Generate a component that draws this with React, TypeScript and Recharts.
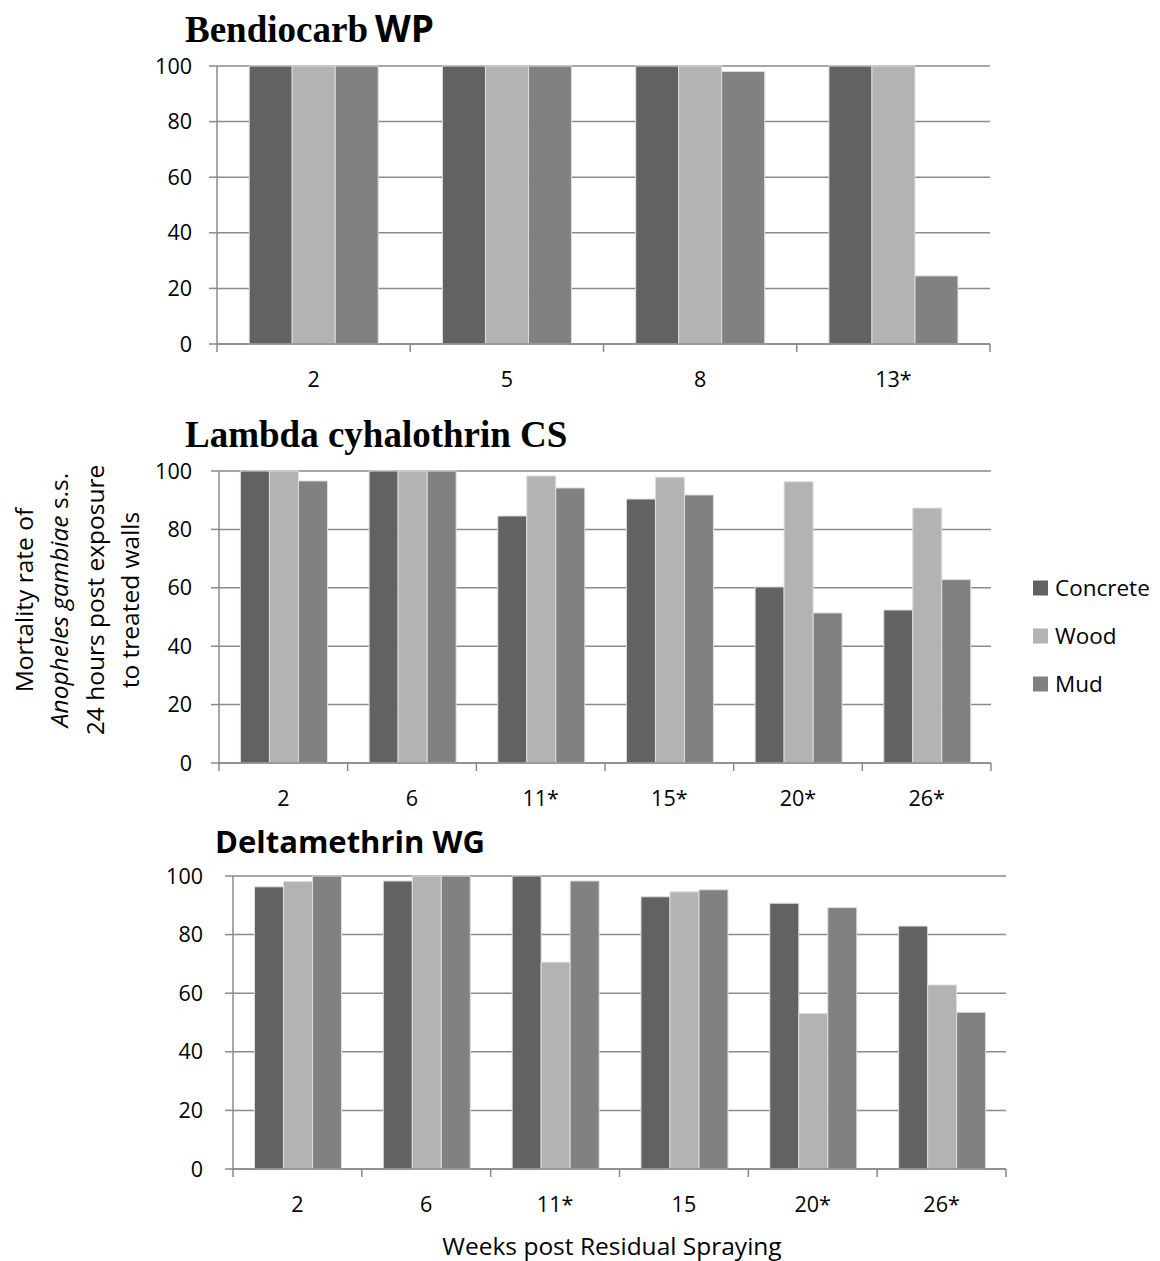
import React from "react";
import { BarChart, Bar, XAxis, YAxis, CartesianGrid } from "recharts";

// values (% mortality)
const bendioWeeks = ["2", "5", "8", "13*"];
const bendioConcrete = [100, 100, 100, 100];
const bendioWood = [100, 100, 100, 100];
const bendioMud = [100, 100, 98, 24.5];

const lambdaWeeks = ["2", "6", "11*", "15*", "20*", "26*"];
const lambdaConcrete = [100, 100, 84.6, 90.4, 60.3, 52.4];
const lambdaWood = [100, 100, 98.3, 97.9, 96.3, 87.3];
const lambdaMud = [96.6, 100, 94.2, 91.8, 51.4, 62.8];

const deltaWeeks = ["2", "6", "11*", "15", "20*", "26*"];
const deltaConcrete = [96.3, 98.3, 100, 92.9, 90.7, 82.9];
const deltaWood = [98.1, 100, 70.6, 94.6, 53.1, 62.8];
const deltaMud = [100, 100, 98.3, 95.3, 89.2, 53.5];

const yTicks = [0, 20, 40, 60, 80, 100];
const surfaces = ["Concrete", "Wood", "Mud"];

const COLORS = { Concrete: "#626262", Wood: "#b3b3b3", Mud: "#818181" } as Record<string, string>;
const GRID = "#8a8a8a";
const SANS = "'Open Sans', sans-serif";
const SERIF = "'Liberation Serif', 'Times New Roman', serif";
const W = 1160;

interface PanelProps {
  top: number;
  height: number;
  margin: { top: number; right: number; bottom: number; left: number };
  yWidth: number;
  tickMargin: number;
  weeks: string[];
  concrete: number[];
  wood: number[];
  mud: number[];
}

function Panel({ top, height, margin, yWidth, tickMargin, weeks, concrete, wood, mud }: PanelProps) {
  const data = weeks.map((w, i) => ({ week: w, Concrete: concrete[i], Wood: wood[i], Mud: mud[i] }));
  const plotW = W - margin.left - yWidth - margin.right;
  const bw = plotW / weeks.length;

  // Excel-style ticks sit on category boundaries, label in the middle
  const WeekTick = (props: any) => {
    const { x, y, payload, index } = props;
    return (
      <g>
        <line x1={x - bw / 2} x2={x - bw / 2} y1={y} y2={y + 8} stroke={GRID} strokeWidth={1.5} />
        {index === weeks.length - 1 && (
          <line x1={x + bw / 2} x2={x + bw / 2} y1={y} y2={y + 8} stroke={GRID} strokeWidth={1.5} />
        )}
        <text x={x} y={y + 28} dy="0.71em" textAnchor="middle" fill="#000" fontSize={21.5} fontFamily={SANS}>
          {payload.value}
        </text>
      </g>
    );
  };

  return (
    <div style={{ position: "absolute", left: 0, top }}>
      <BarChart width={W} height={height} data={data} margin={margin} barGap={0} barCategoryGap="16.67%">
        <CartesianGrid vertical={false} stroke={GRID} strokeWidth={1.5} />
        <XAxis
          dataKey="week"
          height={55}
          interval={0}
          tickSize={0}
          tickMargin={0}
          tickLine={false}
          axisLine={{ stroke: GRID, strokeWidth: 1.5 }}
          tick={WeekTick}
        />
        <YAxis
          domain={[0, 100]}
          ticks={yTicks}
          width={yWidth}
          tickSize={8}
          tickMargin={tickMargin}
          axisLine={{ stroke: GRID, strokeWidth: 1.5 }}
          tickLine={{ stroke: GRID, strokeWidth: 1.5 }}
          tick={{ fill: "#000", fontSize: 21.5, fontFamily: SANS }}
        />
        {surfaces.map((s) => (
          <Bar key={s} dataKey={s} fill={COLORS[s]} stroke="#dedede" strokeWidth={1} isAnimationActive={false} />
        ))}
      </BarChart>
    </div>
  );
}

export default function App() {
  return (
    <div style={{ position: "absolute", left: 0, top: 0, width: W, height: 1261, background: "#fff", fontFamily: SANS }}>
      <Panel
        top={0}
        height={400}
        margin={{ top: 66, right: 170, bottom: 1, left: 137 }}
        yWidth={80}
        tickMargin={17}
        weeks={bendioWeeks}
        concrete={bendioConcrete}
        wood={bendioWood}
        mud={bendioMud}
      />
      <Panel
        top={400}
        height={418}
        margin={{ top: 71, right: 169, bottom: 0, left: 139 }}
        yWidth={80}
        tickMargin={19}
        weeks={lambdaWeeks}
        concrete={lambdaConcrete}
        wood={lambdaWood}
        mud={lambdaMud}
      />
      <Panel
        top={818}
        height={443}
        margin={{ top: 58, right: 154, bottom: 37, left: 153 }}
        yWidth={80}
        tickMargin={22}
        weeks={deltaWeeks}
        concrete={deltaConcrete}
        wood={deltaWood}
        mud={deltaMud}
      />

      <svg width={W} height={1261} style={{ position: "absolute", left: 0, top: 0, pointerEvents: "none" }}>
        {/* panel titles */}
        <text x={185} y={42} fontFamily={SERIF} fontWeight="bold" fontSize={37} fill="#000">
          Bendiocarb
        </text>
        <text x={375} y={42} fontFamily={SANS} fontWeight="bold" fontSize={37} fill="#000">
          WP
        </text>
        <text x={185} y={447} fontFamily={SERIF} fontWeight="bold" fontSize={37} fill="#000">
          Lambda cyhalothrin CS
        </text>
        <text x={215} y={853} fontFamily={SANS} fontWeight="bold" fontSize={31} fill="#000">
          Deltamethrin WG
        </text>

        {/* y axis title */}
        <g fontFamily={SANS} fontSize={24.5} fill="#000" textAnchor="middle">
          <text transform="translate(33,600) rotate(-90)">Mortality rate of</text>
          <text transform="translate(68,600) rotate(-90)">
            <tspan fontStyle="italic">Anopheles gambiae</tspan> s.s.
          </text>
          <text transform="translate(103.5,600) rotate(-90)">24 hours post exposure</text>
          <text transform="translate(139,600) rotate(-90)">to treated walls</text>
        </g>

        {/* x axis title */}
        <text x={612} y={1255} textAnchor="middle" fontFamily={SANS} fontSize={24.5} fill="#000">
          Weeks post Residual Spraying
        </text>

        {/* legend */}
        {surfaces.map((s, i) => (
          <g key={s}>
            <rect x={1033} y={588 + i * 48 - 7.5} width={15} height={15} fill={COLORS[s]} />
            <text x={1055} y={588 + i * 48 + 8} fontFamily={SANS} fontSize={22.5} fill="#000">
              {s}
            </text>
          </g>
        ))}
      </svg>
    </div>
  );
}
